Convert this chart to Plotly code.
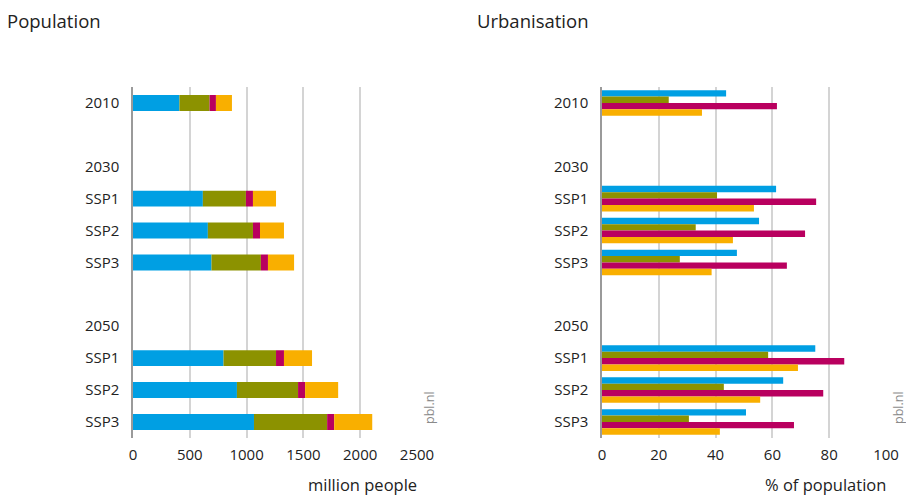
import plotly.graph_objects as go

rows = ["2010", "", "2030", "SSP1", "SSP2", "SSP3", "", "2050", "SSP1", "SSP2", "SSP3"]
# data rows (index into rows)
data_rows = [0, 3, 4, 5, 8, 9, 10]

colors = ["#009FE3", "#8C9200", "#B9005F", "#F9AF00"]
series = ["Region 1", "Region 2", "Region 3", "Region 4"]

# Population (million people), stacked segments
pop_s1 = [409, 615, 659, 691, 797, 915, 1065]
pop_s2 = [265, 379, 397, 435, 462, 538, 644]
pop_s3 = [56, 62, 62, 62, 70, 62, 62]
pop_s4 = [141, 203, 211, 230, 247, 291, 335]

# Urbanisation (% of population)
urb_s1 = [43.7, 61.3, 55.3, 47.5, 75.1, 63.8, 50.7]
urb_s2 = [23.5, 40.5, 33.0, 27.4, 58.5, 42.9, 30.6]
urb_s3 = [61.6, 75.4, 71.5, 65.1, 85.3, 77.9, 67.6]
urb_s4 = [35.2, 53.5, 46.1, 38.6, 69.0, 55.7, 41.5]

pop_x_ticks = [0, 500, 1000, 1500, 2000, 2500]
urb_x_ticks = [0, 20, 40, 60, 80, 100]

FONT = "Open Sans"
fig = go.Figure()

base = [0] * len(data_rows)
for name, vals, c in zip(series, [pop_s1, pop_s2, pop_s3, pop_s4], colors):
    fig.add_trace(go.Bar(x=vals, y=data_rows, base=list(base), orientation="h", name=name,
                         marker=dict(color=c, line=dict(width=0)), width=0.5,
                         xaxis="x", yaxis="y", showlegend=False))
    base = [b + v for b, v in zip(base, vals)]

n = 4
gw = 0.8
bw = gw / n
for i, (name, vals, c) in enumerate(zip(series, [urb_s1, urb_s2, urb_s3, urb_s4], colors)):
    off = -gw / 2 + i * bw
    fig.add_trace(go.Bar(x=vals, y=data_rows, orientation="h", name=name,
                         marker=dict(color=c, line=dict(width=0)), width=bw,
                         offset=off, xaxis="x2", yaxis="y2", showlegend=False))

yax = dict(tickmode="array", tickvals=list(range(len(rows))), ticktext=rows,
           range=[len(rows) - 0.5, -0.5], showgrid=False, zeroline=False,
           showline=True, linecolor="#9a9a9a", linewidth=1.5, ticks="",
           ticklen=0, ticklabelstandoff=9, tickfont=dict(family=FONT, size=15, color="#222"),
           domain=[0.119, 0.825], fixedrange=True, automargin=False)
xax_common = dict(showgrid=True, gridcolor="#d4d4d4", gridwidth=1.5, zeroline=False,
                  showline=False, ticks="", ticklabelstandoff=6,
                  tickfont=dict(family=FONT, size=15, color="#222"),
                  fixedrange=True, automargin=False)

fig.update_layout(
    width=906, height=497, autosize=False,
    margin=dict(l=0, r=0, t=0, b=0, pad=0),
    plot_bgcolor="white", paper_bgcolor="white",
    barmode="overlay",
    xaxis=dict(xax_common, domain=[133 / 906, 417 / 906], range=[0, 2500],
               tickvals=pop_x_ticks, anchor="y"),
    yaxis=dict(yax, anchor="x"),
    xaxis2=dict(xax_common, domain=[602 / 906, 886 / 906], range=[0, 100],
                tickvals=urb_x_ticks, anchor="y2"),
    yaxis2=dict(yax, anchor="x2"),
    font=dict(family=FONT),
)

ann = [
    dict(text="Population", x=5 / 906, y=1 - 20 / 497, xanchor="left", yanchor="middle",
         font=dict(size=18.5, color="#222")),
    dict(text="Urbanisation", x=475 / 906, y=1 - 20 / 497, xanchor="left", yanchor="middle",
         font=dict(size=18.5, color="#222")),
    dict(text="million people", x=418 / 906, y=0, xanchor="right", yanchor="bottom",
         borderpad=0, font=dict(size=16.5, color="#222")),
    dict(text="% of population", x=887 / 906, y=0, xanchor="right", yanchor="bottom",
         borderpad=0, font=dict(size=16.5, color="#222")),
    dict(text="pbl.nl", x=429 / 906, y=1 - 408 / 497, xanchor="center", yanchor="middle",
         textangle=-90, font=dict(size=12.5, color="#8a8a8a")),
    dict(text="pbl.nl", x=898 / 906, y=1 - 408 / 497, xanchor="center", yanchor="middle",
         textangle=-90, font=dict(size=12.5, color="#8a8a8a")),
]
for a in ann:
    a.update(xref="paper", yref="paper", showarrow=False)
fig.update_layout(annotations=ann)

fig.write_html("out.html",
               config={"displayModeBar": False, "responsive": False},
               post_script="document.body.style.margin='0';document.body.style.overflow='hidden';")
